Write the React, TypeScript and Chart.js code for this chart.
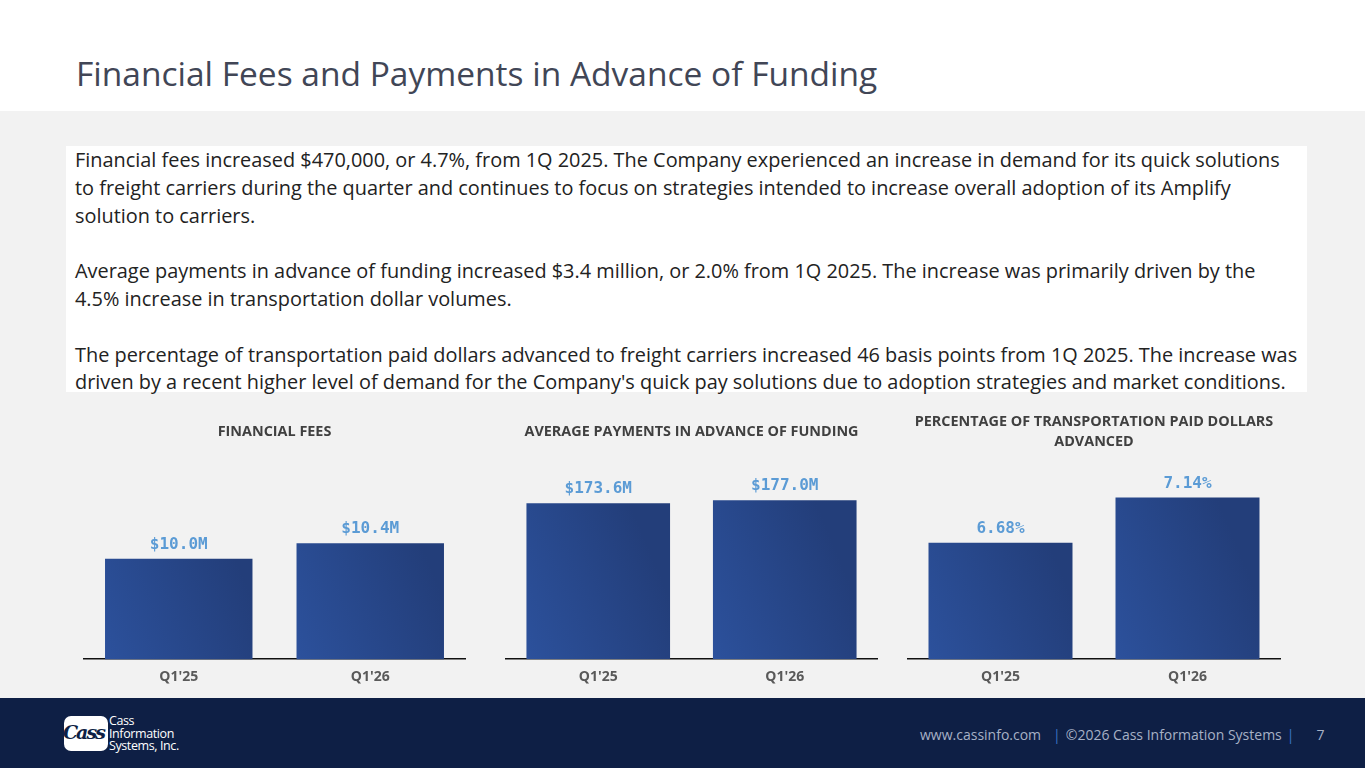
import React, { useEffect, useRef } from "react";
import { Chart, registerables } from "chart.js";

Chart.register(...registerables);

// ---- data ----
const quarters = ["Q1'25", "Q1'26"];
const financialFees = [10.0, 10.4]; // $ millions
const advancePayments = [173.6, 177.0]; // $ millions, average
const paidDollarsAdvanced = [6.68, 7.14]; // percent

const titleText = "Financial Fees and Payments in Advance of Funding";

const commentaryLines = [
  "Financial fees increased $470,000, or 4.7%, from 1Q 2025. The Company experienced an increase in demand for its quick solutions",
  "to freight carriers during the quarter and continues to focus on strategies intended to increase overall adoption of its Amplify",
  "solution to carriers.",
  "",
  "Average payments in advance of funding increased $3.4 million, or 2.0% from 1Q 2025. The increase was primarily driven by the",
  "4.5% increase in transportation dollar volumes.",
  "",
  "The percentage of transportation paid dollars advanced to freight carriers increased 46 basis points from 1Q 2025. The increase was",
  "driven by a recent higher level of demand for the Company's quick pay solutions due to adoption strategies and market conditions.",
];

const FONT = "'Open Sans', 'DejaVu Sans', sans-serif";
Chart.defaults.font.family = FONT;

type Panel = {
  title: string[];
  values: number[];
  format: (v: number) => string;
  yMin: number;
  yMax: number;
  left: number;
  width: number;
};

const panels: Panel[] = [
  {
    title: ["FINANCIAL FEES"],
    values: financialFees,
    format: (v) => `$${v.toFixed(1)}M`,
    yMin: 7.4,
    yMax: 12.55,
    left: 83,
    width: 383,
  },
  {
    title: ["AVERAGE PAYMENTS IN ADVANCE OF FUNDING"],
    values: advancePayments,
    format: (v) => `$${v.toFixed(1)}M`,
    yMin: 0,
    yMax: 221.8,
    left: 505,
    width: 373,
  },
  {
    title: ["PERCENTAGE OF TRANSPORTATION PAID DOLLARS", "ADVANCED"],
    values: paidDollarsAdvanced,
    format: (v) => `${v.toFixed(2)}%`,
    yMin: 5.5,
    yMax: 7.52,
    left: 907,
    width: 374,
  },
];

const BAR_FRACTION = 0.77;
const CHART_TOP = 405;
const CHART_HEIGHT = 290;

// value labels above each bar
const valueLabels = {
  id: "valueLabels",
  afterDatasetsDraw(chart: any, _args: any, opts: any) {
    const { ctx } = chart;
    const meta = chart.getDatasetMeta(0);
    const data = chart.data.datasets[0].data as number[];
    ctx.save();
    ctx.font = "bold 16px 'DejaVu Sans Mono', monospace";
    ctx.fillStyle = "#5B9BD5";
    ctx.textAlign = "center";
    ctx.textBaseline = "middle";
    meta.data.forEach((el: any, i: number) => {
      ctx.fillText(opts.format(data[i]), el.x, el.y - 14);
    });
    ctx.restore();
  },
};

function BarPanel({ panel }: { panel: Panel }) {
  const ref = useRef<HTMLCanvasElement | null>(null);

  useEffect(() => {
    if (!ref.current) return;
    const twoLine = panel.title.length > 1;
    const chart = new Chart(ref.current, {
      type: "bar",
      data: {
        labels: quarters,
        datasets: [
          {
            data: panel.values,
            backgroundColor: (c: any) => {
              const ch = c.chart;
              const area = ch.chartArea;
              if (!area || c.dataIndex === undefined) return "#284889";
              const cx = ch.scales.x.getPixelForValue(c.dataIndex);
              const half = ((area.width / quarters.length) * BAR_FRACTION) / 2;
              const g = ch.ctx.createLinearGradient(cx - half, area.bottom, cx + half, area.bottom - 60);
              g.addColorStop(0, "#2c519c");
              g.addColorStop(1, "#233e7a");
              return g;
            },
            borderWidth: 0,
            categoryPercentage: 1,
            barPercentage: BAR_FRACTION,
          },
        ],
      },
      options: {
        responsive: true,
        maintainAspectRatio: false,
        animation: false,
        layout: { padding: { left: 0, right: 0, top: 0, bottom: 1 } },
        plugins: {
          legend: { display: false },
          tooltip: { enabled: false },
          title: {
            display: true,
            text: panel.title,
            color: "#404040",
            font: { size: 14.4, weight: "bold", lineHeight: 20 / 14.4 },
            padding: twoLine ? { top: 7, bottom: 8 } : { top: 17, bottom: 18 },
          },
          valueLabels: { format: panel.format },
        } as any,
        scales: {
          x: {
            grid: { display: false, drawTicks: false },
            border: { display: true, color: "#111111", width: 1.5 },
            ticks: {
              color: "#595959",
              font: { size: 14, weight: "bold" },
              padding: 9,
            },
          },
          y: {
            display: false,
            min: panel.yMin,
            max: panel.yMax,
          },
        },
      },
      plugins: [valueLabels],
    });
    return () => chart.destroy();
  }, [panel]);

  return (
    <div
      style={{
        position: "absolute",
        left: panel.left,
        top: CHART_TOP,
        width: panel.width,
        height: CHART_HEIGHT,
      }}
    >
      <canvas ref={ref} />
    </div>
  );
}

function Logo() {
  return (
    <div style={{ position: "absolute", left: 64, top: 715 }}>
      <div
        style={{
          position: "absolute",
          left: 0,
          top: 1,
          width: 44,
          height: 35,
          background: "#ffffff",
          borderRadius: 7,
          overflow: "hidden",
        }}
      >
        <div
          style={{
            position: "absolute",
            left: -1,
            top: 5,
            fontFamily: "'DejaVu Serif', serif",
            fontStyle: "italic",
            fontWeight: "bold",
            fontSize: 19,
            letterSpacing: -2,
            color: "#0e1f45",
            lineHeight: "22px",
          }}
        >
          Cass
        </div>
      </div>
      <div
        style={{
          position: "absolute",
          left: 45,
          top: 0,
          color: "#ffffff",
          fontFamily: FONT,
          fontSize: 12.5,
          lineHeight: "12.5px",
          letterSpacing: -0.4,
          whiteSpace: "nowrap",
        }}
      >
        <div>Cass</div>
        <div>Information</div>
        <div>Systems, Inc.</div>
      </div>
    </div>
  );
}

export default function App() {
  return (
    <div
      style={{
        position: "absolute",
        left: 0,
        top: 0,
        width: 1365,
        height: 768,
        background: "#f2f2f2",
        overflow: "hidden",
        fontFamily: FONT,
      }}
    >
      {/* header */}
      <div style={{ position: "absolute", left: 0, top: 0, width: 1365, height: 111, background: "#ffffff" }} />
      <div
        style={{
          position: "absolute",
          left: 76,
          top: 53,
          fontSize: 33.5,
          lineHeight: "40px",
          color: "#414656",
          whiteSpace: "nowrap",
        }}
      >
        {titleText}
      </div>

      {/* commentary */}
      <div
        style={{
          position: "absolute",
          left: 66,
          top: 146,
          width: 1241,
          height: 246,
          background: "#ffffff",
        }}
      />
      <div
        style={{
          position: "absolute",
          left: 75,
          top: 146,
          fontSize: 19.9,
          lineHeight: "27.8px",
          color: "#222222",
        }}
      >
        {commentaryLines.map((line, i) => (
          <div key={i} style={{ whiteSpace: "nowrap", height: 27.8 }}>
            {line}
          </div>
        ))}
      </div>

      {/* charts */}
      {panels.map((p, i) => (
        <BarPanel key={i} panel={p} />
      ))}

      {/* footer */}
      <div style={{ position: "absolute", left: 0, top: 698, width: 1365, height: 70, background: "#0e1f45" }} />
      <Logo />
      <div
        style={{
          position: "absolute",
          left: 920,
          top: 724,
          fontSize: 14,
          lineHeight: "22px",
          color: "#a7b1c5",
          whiteSpace: "nowrap",
        }}
      >
        <span>www.cassinfo.com</span>
        <span style={{ color: "#3a75c4", marginLeft: 12, marginRight: 5 }}>|</span>
        <span>©2026 Cass Information Systems</span>
        <span style={{ color: "#3a75c4", marginLeft: 5 }}>|</span>
        <span style={{ marginLeft: 22 }}>7</span>
      </div>
    </div>
  );
}
